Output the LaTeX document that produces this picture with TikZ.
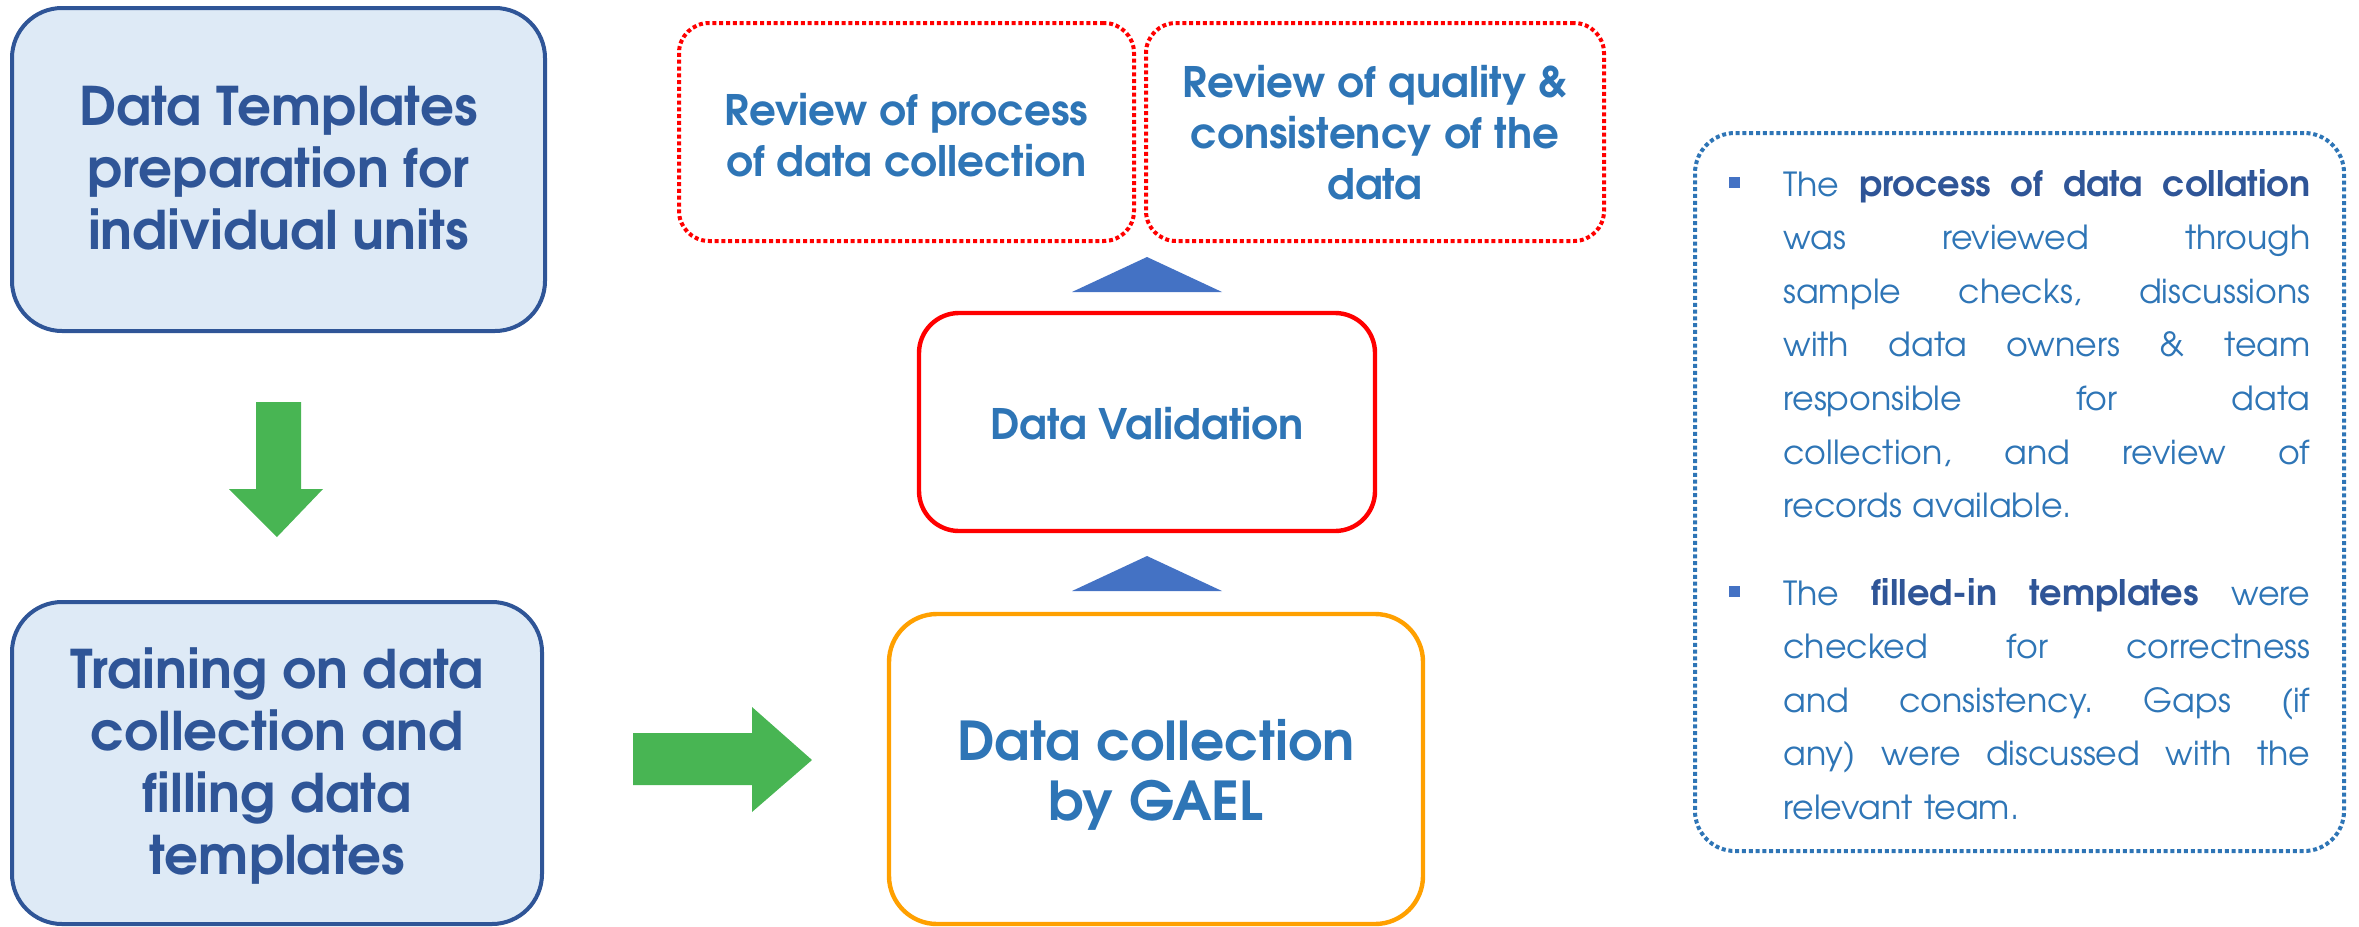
\documentclass[tikz,border=0pt]{standalone}
\usepackage{fontspec}
\setmainfont{TeX Gyre Adventor}
\definecolor{dblue}{HTML}{2F5597}
\definecolor{lblue}{HTML}{DEEAF6}
\definecolor{mblue}{HTML}{2E75B6}
\definecolor{tri}{HTML}{4472C4}
\definecolor{grn}{HTML}{48B553}
\definecolor{org}{HTML}{FFA000}
\definecolor{redc}{HTML}{FF0000}
\newcommand\jline[1]{\noindent{\frenchspacing\spaceskip=0.28em plus 1fil\relax\hbox to 263.5pt{#1}}\par}
\newcommand\lline[1]{\noindent{\frenchspacing #1}\par}
\newcommand\bd[1]{{\fontsize{17.6}{26.8}\selectfont\bfseries\color{dblue}#1}}
\begin{document}
\begin{tikzpicture}[x=0.5pt,y=-0.5pt,
  bluebox/.style={draw=dblue, line width=2pt, fill=lblue, rounded corners=25pt, inner sep=0pt},
  bluetext/.style={text=dblue, font=\bfseries\fontsize{26.6}{31}\selectfont, align=center, inner sep=0pt},
  reviewbox/.style={draw=redc, line width=2pt, dash pattern=on 2pt off 1.4pt, rounded corners=15pt, inner sep=0pt},
  reviewtext/.style={text=mblue, font=\bfseries\fontsize{21}{25.5}\selectfont, align=center, inner sep=0pt},
  valbox/.style={draw=redc, line width=2.2pt, rounded corners=20pt, inner sep=0pt},
  valtext/.style={text=mblue, font=\bfseries\fontsize{21}{24}\selectfont, align=center, inner sep=0pt},
  collbox/.style={draw=org, line width=2.2pt, rounded corners=24pt, inner sep=0pt},
  colltext/.style={text=mblue, font=\bfseries\fontsize{26.8}{30}\selectfont, align=center, inner sep=0pt},
  notebox/.style={draw=mblue, line width=2pt, dash pattern=on 2pt off 1.4pt, rounded corners=20pt, inner sep=0pt},
  para/.style={anchor=base west, text width=263.5pt, inner sep=0pt, text=mblue,
    font=\fontsize{16.6}{26.8}\selectfont},
  bullet/.style={fill=tri, minimum size=5.5pt, inner sep=0pt},
  greenarrow/.style={fill=grn},
  tribtn/.style={fill=tri}
]
\useasboundingbox (0,0) rectangle (2359,926);

% left column
\node[bluebox, minimum width=266.5pt, minimum height=161.5pt] (b1) at (278.5,169.5) {};
\node[bluetext] (b1t) at (278.5,168) {Data Templates\\preparation for\\individual units};
\node[bluebox, minimum width=265pt, minimum height=161pt] (b2) at (277,763) {};
\node[bluetext] (b2t) at (277,766.5) {Training on data\\collection and\\filling data\\templates};

% green arrows
\fill[greenarrow] (256,402) -- (301,402) -- (301,489) -- (323,489) -- (277,537) -- (229,489) -- (256,489) -- cycle;
\fill[greenarrow] (633,733) -- (752,733) -- (752,707) -- (812,760) -- (752,812) -- (752,785) -- (633,785) -- cycle;

% middle column
\node[collbox, minimum width=267pt, minimum height=155pt] (coll) at (1156,769) {};
\node[colltext] (colltxt) at (1156,775) {Data collection\\by GAEL};
\node[valbox, minimum width=228pt, minimum height=109pt] (val) at (1147,422) {};
\node[valtext] (valtxt) at (1147,424) {Data Validation};
\node[reviewbox, minimum width=227.5pt, minimum height=109pt] (r1) at (906.5,132) {};
\node[reviewtext] (r1t) at (906.5,135) {Review of process\\of data collection};
\node[reviewbox, minimum width=229pt, minimum height=109pt] (r2) at (1375,132) {};
\node[reviewtext] (r2t) at (1375,133) {Review of quality \&\\consistency of the\\data};

% blue triangles
\fill[tribtn] (1072,591) -- (1147,556) -- (1222,591) -- cycle;
\fill[tribtn] (1072,292) -- (1147,257) -- (1222,292) -- cycle;

% right notes box
\node[notebox, minimum width=324.5pt, minimum height=359pt] (notes) at (2019.5,492) {};
\node[bullet] (bl1) at (1734.5,182) {};
\node[bullet] (bl2) at (1734.5,591) {};
\node[para] (p1) at (1783,196) {%
  \jline{The \bd{process of data collation}}
  \jline{was reviewed through}
  \jline{sample checks, discussions}
  \jline{with data owners \& team}
  \jline{responsible for data}
  \jline{collection, and review of}
  \lline{records available.}};
\node[para] (p2) at (1783,605) {%
  \jline{The \bd{filled-in templates} were}
  \jline{checked for correctness}
  \jline{and consistency. Gaps (if}
  \jline{any) were discussed with the}
  \lline{relevant team.}};
\end{tikzpicture}
\end{document}
